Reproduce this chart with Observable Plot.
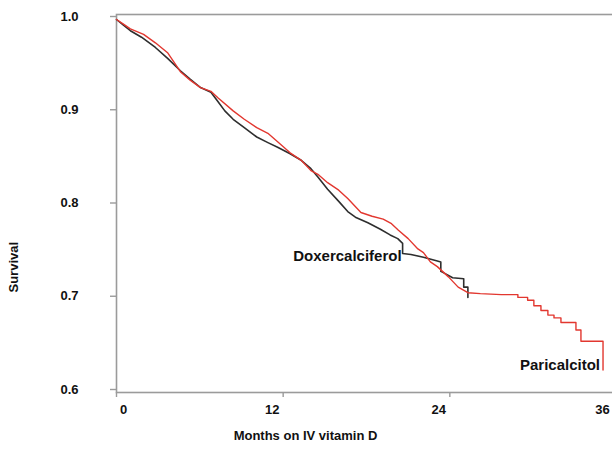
<!DOCTYPE html>
<html>
<head>
<meta charset="utf-8">
<script src="https://cdn.jsdelivr.net/npm/d3@7"></script>
<script src="https://cdn.jsdelivr.net/npm/@observablehq/plot@0.6"></script>
<style>
  html, body { margin: 0; padding: 0; background: #fff; }
  #chart svg { display: block; }
</style>
</head>
<body>
<div id="chart"></div>
<script>
// Kaplan–Meier survival by IV vitamin D agent (months, survival proportion)
const doxMonths = [0, 0.5, 1.0, 1.8, 2.8, 3.7, 4.6, 5.3, 6.05, 6.8, 7.3, 7.8, 8.4, 9.2, 10.1, 10.9, 11.6, 12.5, 13.3, 14.0, 14.5, 15.2, 16.0, 16.65, 17.2, 18.1, 19.0, 19.7, 20.25, 20.6, 20.6, 21.2, 22.1, 23.1, 23.35, 23.35, 23.6, 24.2, 25.0, 25.0, 25.3, 25.3];
const doxSurvival = [1.000, 0.994, 0.988, 0.981, 0.970, 0.958, 0.945, 0.936, 0.927, 0.922, 0.912, 0.902, 0.893, 0.884, 0.874, 0.868, 0.863, 0.856, 0.849, 0.840, 0.831, 0.818, 0.805, 0.794, 0.788, 0.782, 0.775, 0.769, 0.765, 0.760, 0.749, 0.748, 0.745, 0.741, 0.740, 0.730, 0.728, 0.723, 0.722, 0.713, 0.713, 0.702];

const pariMonths = [0, 0.5, 1.0, 1.95, 2.8, 3.7, 4.6, 5.3, 6.05, 6.8, 7.3, 8.4, 9.2, 10.1, 10.9, 11.6, 12.5, 13.3, 14.0, 14.5, 15.2, 16.0, 16.65, 17.6, 18.4, 19.2, 19.8, 20.3, 21.0, 21.7, 22.1, 22.6, 23.1, 23.9, 24.6, 25.3, 26.2, 27.7, 28.9, 28.9, 29.6, 29.6, 30.05, 30.05, 30.56, 30.56, 31.06, 31.06, 31.5, 31.5, 32.0, 32.0, 33.08, 33.08, 33.44, 33.44, 35.03, 35.03];
const pariSurvival = [1.000, 0.995, 0.990, 0.984, 0.975, 0.964, 0.944, 0.935, 0.927, 0.923, 0.916, 0.902, 0.893, 0.884, 0.878, 0.869, 0.857, 0.849, 0.838, 0.834, 0.825, 0.817, 0.808, 0.793, 0.789, 0.786, 0.781, 0.774, 0.765, 0.754, 0.750, 0.740, 0.735, 0.724, 0.713, 0.707, 0.706, 0.705, 0.705, 0.702, 0.702, 0.699, 0.699, 0.693, 0.693, 0.688, 0.688, 0.683, 0.683, 0.680, 0.680, 0.675, 0.675, 0.667, 0.667, 0.655, 0.655, 0.624];

const seriesNames = ["Doxercalciferol", "Paricalcitol"];
const seriesColors = ["#2e2e2e", "#e2372f"];

const xTicks = [0, 12, 24, 36];
const yTicks = [0.6, 0.7, 0.8, 0.9, 1.0];
const xTitle = "Months on IV vitamin D";
const yTitle = "Survival";

const toRows = (months, surv, name) => months.map((m, i) => ({month: m, survival: surv[i], series: name}));
const dox = toRows(doxMonths, doxSurvival, seriesNames[0]);
const pari = toRows(pariMonths, pariSurvival, seriesNames[1]);

const axisGray = "#9b9b9b";
const font = "'Liberation Sans', Arial, Helvetica, sans-serif";

// label anchors: the Doxercalciferol step near 20.6 months and the last Paricalcitol point
const doxLabel = dox[30];
const pariLabel = pari[pari.length - 1];

const chart = Plot.plot({
  width: 612,
  height: 459,
  marginLeft: 116,
  marginRight: -4,
  marginTop: 14,
  marginBottom: 67,
  style: {fontFamily: font, fontWeight: "bold", fontSize: "13px", color: "#111", background: "#fff"},
  x: {domain: [0, 36], label: null},
  y: {domain: [0.6, 1.0], range: [392, 19], label: null},
  marks: [
    Plot.frame({stroke: axisGray, strokeWidth: 1.6}),
    // y axis: outward ticks, labels set well to the left
    Plot.axisY({ticks: yTicks, tickFormat: ".1f", tickSize: 6, tickPadding: 32, dy: -3, label: null,
      stroke: axisGray, strokeWidth: 1.4, color: "#111", fontSize: 13, fontWeight: "bold"}),
    // x axis ticks
    Plot.axisX({ticks: xTicks, tickSize: 5, stroke: axisGray, strokeWidth: 1.4, tickFormat: () => "", label: null}),
    // x tick labels
    Plot.axisX([xTicks[0]], {tickSize: 0, tickPadding: 12, dx: 7, label: null, color: "#111", fontSize: 13, fontWeight: "bold"}),
    Plot.axisX(xTicks.slice(1, 3), {tickSize: 0, tickPadding: 12, dx: -11, label: null, color: "#111", fontSize: 13, fontWeight: "bold"}),
    Plot.axisX([xTicks[3]], {tickSize: 0, tickPadding: 12, dx: -14, label: null, color: "#111", fontSize: 13, fontWeight: "bold"}),
    // survival curves
    Plot.line(dox, {x: "month", y: "survival", stroke: seriesColors[0], strokeWidth: 1.6, curve: "linear"}),
    Plot.line(pari, {x: "month", y: "survival", stroke: seriesColors[1], strokeWidth: 1.4, curve: "linear"}),
    // series labels
    Plot.text([doxLabel], {x: "month", y: "survival", text: () => seriesNames[0], textAnchor: "end",
      dx: -1, dy: 3, fontSize: 15, fontWeight: "bold", fill: "#111"}),
    Plot.text([pariLabel], {x: "month", y: "survival", text: () => seriesNames[1], textAnchor: "end",
      dx: -3, dy: -5, fontSize: 15, fontWeight: "bold", fill: "#111"}),
    // axis titles
    Plot.text([xTitle], {frameAnchor: "bottom", dx: -61, dy: 47, fontSize: 13, fontWeight: "bold", fill: "#111"}),
    Plot.text([yTitle], {frameAnchor: "left", dx: -103, dy: 89, rotate: -90, fontSize: 13, fontWeight: "bold", fill: "#111"})
  ]
});

document.getElementById("chart").appendChild(chart);
</script>
</body>
</html>
